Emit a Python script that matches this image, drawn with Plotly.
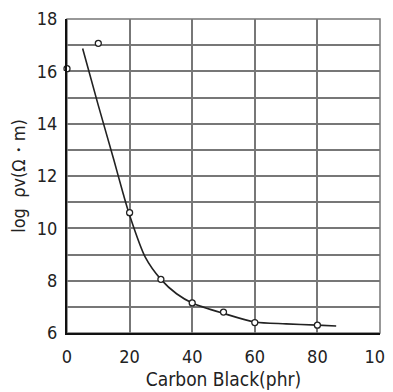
import plotly.graph_objects as go

# measured points
carbon_black = [0, 10, 20, 30, 40, 50, 60, 80]
log_rho = [16.1, 17.07, 10.6, 8.05, 7.15, 6.8, 6.4, 6.3]

# fitted curve
curve_x = [5, 10, 15, 18, 20, 25, 30, 35, 40, 50, 60, 70, 80, 86]
curve_y = [16.87, 14.7, 12.6, 11.3, 10.5, 8.9, 8.05, 7.5, 7.15, 6.75, 6.42, 6.35, 6.3, 6.27]

x_ticks = [0, 20, 40, 60, 80, 100]
y_ticks = [6, 8, 10, 12, 14, 16, 18]

FONT = "DejaVu Sans Condensed, sans-serif"

fig = go.Figure()
fig.add_trace(go.Scatter(x=curve_x, y=curve_y, mode="lines",
                         line=dict(color="#222", width=1.6, shape="spline", smoothing=0.8),
                         hoverinfo="skip", showlegend=False))
fig.add_trace(go.Scatter(x=carbon_black, y=log_rho, mode="markers",
                         marker=dict(symbol="circle", size=6, color="white",
                                     line=dict(color="#222", width=1.3)),
                         showlegend=False, cliponaxis=False))

fig.update_layout(
    width=385, height=384,
    margin=dict(l=59, r=13, t=11, b=59, autoexpand=False),
    paper_bgcolor="white", plot_bgcolor="white",
    font=dict(family=FONT, color="#222", size=18),
    xaxis=dict(range=[0, 100], tickvals=x_ticks, ticktext=[str(v) for v in x_ticks],
               showgrid=True, gridcolor="#777", gridwidth=1.5,
               showline=True, linecolor="#111", linewidth=2, mirror=False,
               zeroline=False, ticks="outside", ticklen=6, tickcolor="white",
               automargin=False, ticklabeloverflow="allow",
               title=dict(text="Carbon Black(phr)", font=dict(size=19, family=FONT), standoff=7),
               tickfont=dict(size=18)),
    yaxis=dict(range=[6, 18], tickvals=y_ticks, ticktext=[str(v) for v in y_ticks],
               showgrid=True, gridcolor="#777", gridwidth=1.5,
               minor=dict(dtick=1, showgrid=True, gridcolor="#777", gridwidth=1.5),
               showline=True, linecolor="#111", linewidth=2,
               zeroline=False, ticks="outside", ticklen=4, tickcolor="white",
               automargin=False, ticklabeloverflow="allow",
               title=dict(text="log  ρv(Ω・m)", font=dict(size=18, family=FONT), standoff=14),
               tickfont=dict(size=18)),
)
# top & right frame (gray)
fig.add_shape(type="rect", xref="paper", yref="paper", x0=0, y0=0, x1=1, y1=1,
              line=dict(color="#777", width=1.5), layer="below")

fig.write_html("out.html")
